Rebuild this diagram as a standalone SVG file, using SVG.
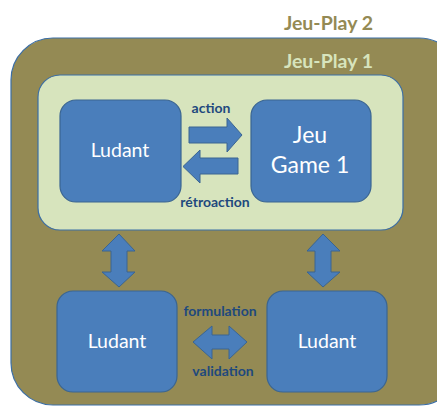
<svg xmlns="http://www.w3.org/2000/svg" width="437" height="406" viewBox="0 0 437 406">
<style>
.box{fill:#4a7ebb;stroke:#3a6592;stroke-width:1.2}
.arr{fill:#4a7ebb;stroke:#3a6592;stroke-width:1}
.t{font-family:Lato,"Open Sans",sans-serif;fill:#fff;font-size:19.5px;text-anchor:middle}
.big{font-size:23px}
.lbl{font-family:Lato,"Open Sans",sans-serif;fill:#1f497d;font-size:14px;font-weight:bold;text-anchor:middle}
.title{font-family:Lato,"Open Sans",sans-serif;font-size:19.5px;font-weight:bold;text-anchor:end}
</style>
<rect width="437" height="406" fill="#fff"/>
<g id="jeu-play-2">
<rect x="11" y="38" width="450" height="367" rx="42" fill="#948a54" stroke="#3b6ea5" stroke-width="1.2"/>
<text class="title" x="373" y="30" fill="#948a54">Jeu-Play 2</text>
</g>
<g id="jeu-play-1">
<rect x="38" y="75" width="365" height="155" rx="22" fill="#d7e4bd" stroke="#3b6ea5" stroke-width="1.2"/>
<text class="title" x="373" y="68" fill="#d7e4bd">Jeu-Play 1</text>
</g>
<g id="ludant-top">
<rect class="box" x="60" y="100" width="121" height="102" rx="16"/>
<text class="t" x="120" y="157">Ludant</text>
</g>
<g id="jeu-game">
<rect class="box" x="251" y="100" width="120" height="102" rx="16"/>
<text class="t big" x="310" y="143">Jeu</text>
<text class="t big" x="310" y="173">Game 1</text>
</g>
<g id="ludant-bottom-left">
<rect class="box" x="57" y="291" width="120" height="101" rx="16"/>
<text class="t" x="117" y="348">Ludant</text>
</g>
<g id="ludant-bottom-right">
<rect class="box" x="267" y="291" width="120" height="101" rx="16"/>
<text class="t" x="327" y="348">Ludant</text>
</g>
<g id="connectors">
<path class="arr" d="M189,127 H227 V118 L242,135 L227,152 V143 H189 Z"/>
<text class="lbl" x="211" y="113">action</text>
<path class="arr" d="M238,158 H200 V150 L183,166.5 L200,183 V174 H238 Z"/>
<text class="lbl" x="215" y="207">rétroaction</text>
<path class="arr" d="M119,234 L135,251 H127 V272 H135 L119,287 L102,272 H111 V251 H102 Z"/>
<path class="arr" d="M323,234 L340,251 H331 V272 H340 L323,287 L307,272 H315 V251 H307 Z"/>
<path class="arr" d="M193,342 L212,326 V335 H229 V326 L247,342 L229,359 V349 H212 V359 Z"/>
<text class="lbl" x="220" y="316">formulation</text>
<text class="lbl" x="223" y="376">validation</text>
</g>
</svg>
